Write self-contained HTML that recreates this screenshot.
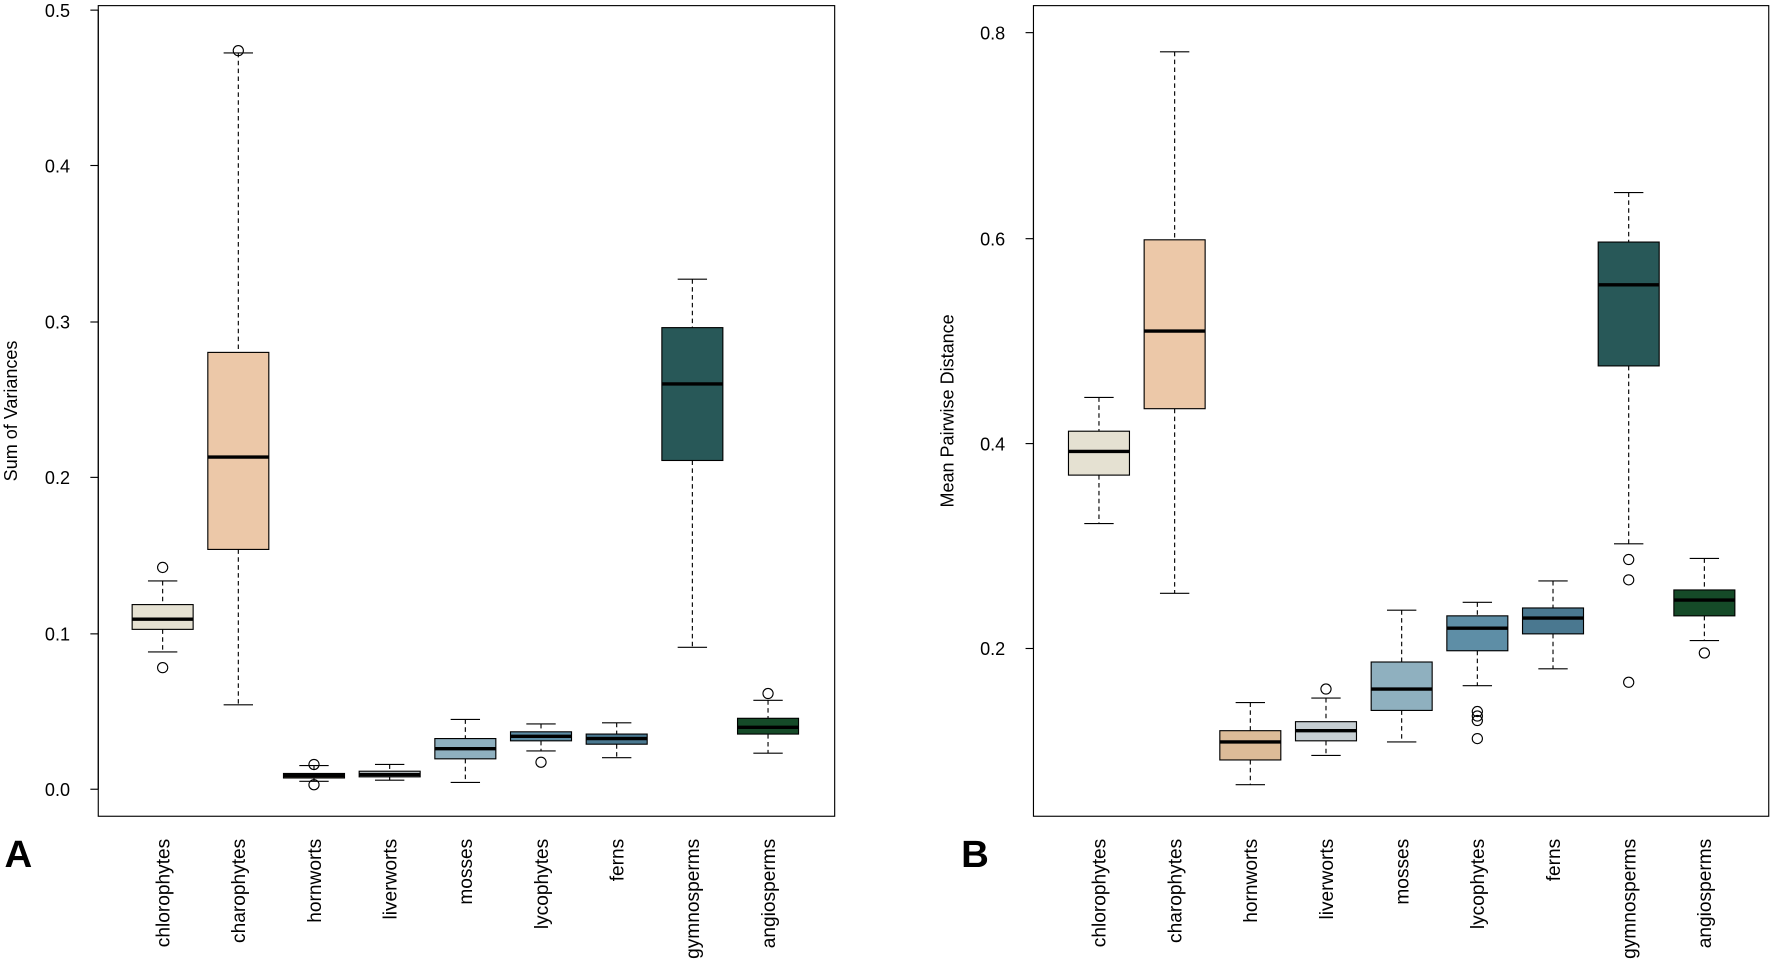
<!DOCTYPE html>
<html><head><meta charset="utf-8"><style>
html,body{margin:0;padding:0;background:#fff}
svg{display:block}
text{font-family:"Liberation Sans",Arial,sans-serif;fill:#000}
</style></head><body>
<svg id="s" width="1771" height="975" viewBox="0 0 1568 866" preserveAspectRatio="none" xmlns="http://www.w3.org/2000/svg">
<rect x="87" y="5" width="652" height="720" fill="none" stroke="#000" stroke-width="1"/>
<rect x="915" y="5" width="651" height="720" fill="none" stroke="#000" stroke-width="1"/>
<g stroke="#000" stroke-width="1">
<line x1="87" y1="9" x2="87" y2="701"/>
<line x1="80" y1="701" x2="87" y2="701"/><line x1="80" y1="563" x2="87" y2="563"/><line x1="80" y1="424" x2="87" y2="424"/><line x1="80" y1="286" x2="87" y2="286"/><line x1="80" y1="147" x2="87" y2="147"/><line x1="80" y1="9" x2="87" y2="9"/>
<line x1="915" y1="29" x2="915" y2="576"/>
<line x1="908" y1="29" x2="915" y2="29"/><line x1="908" y1="212" x2="915" y2="212"/><line x1="908" y1="394" x2="915" y2="394"/><line x1="908" y1="576" x2="915" y2="576"/>
</g>
<g font-size="16" text-anchor="end">
<text x="62" y="707">0.0</text><text x="62" y="569">0.1</text><text x="62" y="430">0.2</text><text x="62" y="292">0.3</text><text x="62" y="153">0.4</text><text x="62" y="15">0.5</text>
<text x="890" y="35">0.8</text><text x="890" y="218">0.6</text><text x="890" y="400">0.4</text><text x="890" y="582">0.2</text>
</g>
<text font-size="16" text-anchor="middle" transform="translate(15,365) rotate(-90)">Sum of Variances</text>
<text font-size="16" text-anchor="middle" transform="translate(844,365) rotate(-90)">Mean Pairwise Distance</text>
<text x="4" y="770" font-size="34" font-weight="bold">A</text>
<text x="851" y="770" font-size="34" font-weight="bold">B</text>
<g font-size="17" text-anchor="end">
<text transform="translate(150,745) rotate(-90)">chlorophytes</text>
<text transform="translate(217,745) rotate(-90)">charophytes</text>
<text transform="translate(284,745) rotate(-90)">hornworts</text>
<text transform="translate(351,745) rotate(-90)">liverworts</text>
<text transform="translate(418,745) rotate(-90)">mosses</text>
<text transform="translate(485,745) rotate(-90)">lycophytes</text>
<text transform="translate(552,745) rotate(-90)">ferns</text>
<text transform="translate(619,745) rotate(-90)">gymnosperms</text>
<text transform="translate(686,745) rotate(-90)">angiosperms</text>
<text transform="translate(979,745) rotate(-90)">chlorophytes</text>
<text transform="translate(1046,745) rotate(-90)">charophytes</text>
<text transform="translate(1113,745) rotate(-90)">hornworts</text>
<text transform="translate(1180,745) rotate(-90)">liverworts</text>
<text transform="translate(1247,745) rotate(-90)">mosses</text>
<text transform="translate(1314,745) rotate(-90)">lycophytes</text>
<text transform="translate(1381,745) rotate(-90)">ferns</text>
<text transform="translate(1448,745) rotate(-90)">gymnosperms</text>
<text transform="translate(1515,745) rotate(-90)">angiosperms</text>
</g>
<g id="boxes"></g>
</svg>
<script>
var cols=["#e5e1d2","#ecc8a8","#dcbb98","#c7cfd3","#8fb0bf","#5e8ea6","#4a7890","#285858","#154a28"];
var A=[[516,537,550,559,579,[504,593]],[47,313,406,488,626,[45]],[680,687,689,691,694,[679,697]],[679,685,688,690,693,[]],[639,656,665,674,695,[]],[643,650,654,658,667,[677]],[642,652,656,661,673,[]],[248,291,341,409,575,[]],[622,638,646,652,669,[616]]];
var B=[[353,383,401,422,465,[]],[46,213,294,363,527,[]],[624,649,659,675,697,[]],[620,641,649,658,671,[612]],[542,588,612,631,659,[]],[535,547,558,578,609,[632,636,640,656]],[516,540,549,563,594,[]],[171,215,253,325,483,[497,515,606]],[496,524,533,547,569,[580]]];
var g="";
function draw(d,x0){for(var i=0;i<9;i++){var x=x0+i*67,b=d[i],w=27,h=13;
g+='<line x1="'+x+'" y1="'+b[0]+'" x2="'+x+'" y2="'+b[1]+'" stroke="#000" stroke-dasharray="4,3"/>';
g+='<line x1="'+x+'" y1="'+b[3]+'" x2="'+x+'" y2="'+b[4]+'" stroke="#000" stroke-dasharray="4,3"/>';
g+='<line x1="'+(x-h)+'" y1="'+b[0]+'" x2="'+(x+h)+'" y2="'+b[0]+'" stroke="#000"/>';
g+='<line x1="'+(x-h)+'" y1="'+b[4]+'" x2="'+(x+h)+'" y2="'+b[4]+'" stroke="#000"/>';
g+='<rect x="'+(x-w)+'" y="'+b[1]+'" width="'+(2*w)+'" height="'+(b[3]-b[1])+'" fill="'+cols[i]+'" stroke="#000"/>';
g+='<line x1="'+(x-w)+'" y1="'+b[2]+'" x2="'+(x+w)+'" y2="'+b[2]+'" stroke="#000" stroke-width="3"/>';
b[5].forEach(function(o){g+='<circle cx="'+x+'" cy="'+o+'" r="4.5" fill="none" stroke="#000"/>';});}}
draw(A,144);draw(B,973);
document.getElementById("boxes").innerHTML=g;
</script>
</body></html>
